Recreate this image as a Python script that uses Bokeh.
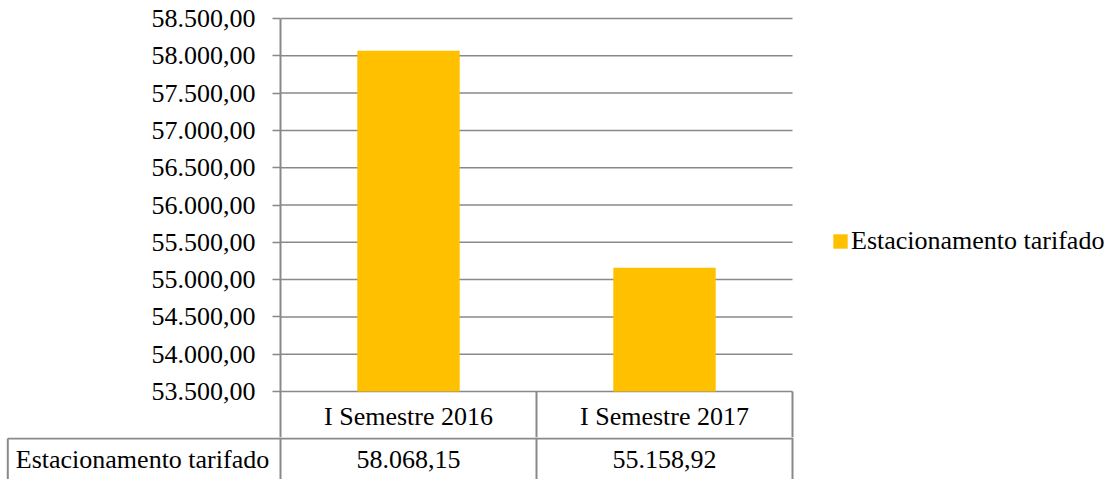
from bokeh.plotting import figure
from bokeh.layouts import column
from bokeh.models import Range1d, FixedTicker, Legend, LegendItem
from bokeh.embed import file_html
from bokeh.resources import INLINE
from bokeh.core.properties import value

# ---------------- data ----------------
categories = ["I Semestre 2016", "I Semestre 2017"]
series_name = "Estacionamento tarifado"
values = [58068.15, 55158.92]
y_ticks = [53500, 54000, 54500, 55000, 55500, 56000, 56500, 57000, 57500, 58000, 58500]


def fmt_pt(v):
    s = f"{v:,.2f}"
    return s.replace(",", "#").replace(".", ",").replace("#", ".")


tick_labels = [fmt_pt(v) for v in y_ticks]
value_labels = [fmt_pt(v) for v in values]

# ---------------- layout ----------------
W = 1118
H_MAIN = 437           # chart part (down to the table's row separator)
H_ROW = 42             # last table row
FRAME_LEFT = 280
FRAME_TOP = 16
TOP_TICK_Y = 18        # pixel row of the highest tick
CAT_PX = 256
SPAN_PX = 373          # pixels between lowest and highest tick
GRAY = "#898989"
FONT = "Liberation Serif"
FS = "26px"

n = len(categories)
px_per_unit = SPAN_PX / (y_ticks[-1] - y_ticks[0])
y_end = y_ticks[-1] + (TOP_TICK_Y - FRAME_TOP) / px_per_unit
y_start = y_end - (H_MAIN - FRAME_TOP) / px_per_unit


def yd(py):
    return y_end - (py - FRAME_TOP) / px_per_unit


def xd(px):
    return (px - FRAME_LEFT) / CAT_PX


p = figure(width=W, height=H_MAIN,
           x_range=Range1d(0, (W - FRAME_LEFT) / CAT_PX),
           y_range=Range1d(y_start, y_end),
           x_axis_location=None, y_axis_location="left",
           output_backend="svg", toolbar_location=None,
           min_border_left=FRAME_LEFT, min_border_right=0,
           min_border_top=FRAME_TOP, min_border_bottom=0)
p.outline_line_color = None
p.xgrid.visible = False
p.ygrid.visible = False

ax = p.yaxis[0]
ax.ticker = FixedTicker(ticks=y_ticks, minor_ticks=[])
ax.bounds = (y_start, y_ticks[-1])
ax.major_label_overrides = {t: l for t, l in zip(y_ticks, tick_labels)}
ax.axis_line_color = GRAY
ax.axis_line_width = 2
ax.major_tick_line_color = GRAY
ax.major_tick_line_width = 1.5
ax.major_tick_out = 8
ax.major_tick_in = 0
ax.minor_tick_out = 0
ax.minor_tick_in = 0
ax.major_label_standoff = 17
ax.major_label_text_font = FONT
ax.major_label_text_font_size = FS
ax.major_label_text_color = "black"

# gridlines limited to the category area
p.segment(x0=[0] * len(y_ticks), x1=[n] * len(y_ticks), y0=y_ticks, y1=y_ticks,
          line_color=GRAY, line_width=1.5)

centers = [i + 0.5 for i in range(n)]
bars = p.vbar(x=centers, top=values, bottom=y_ticks[0], width=0.4,
              fill_color="#FFC000", line_color=None)

# table: first row (category names)
bounds = [i + 1 for i in range(n)]
p.segment(x0=bounds, x1=bounds, y0=[y_ticks[0]] * n, y1=[y_start] * n,
          line_color=GRAY, line_width=2)
p.text(x=centers, y=[yd(415.5)] * n, text=categories, text_align="center",
       text_baseline="middle", text_font=value(FONT), text_font_size=FS, text_color="black")

legend = Legend(items=[LegendItem(label=series_name, renderers=[bars])],
                location=(551, 181), orientation="vertical",
                border_line_color=None, background_fill_alpha=0,
                padding=0, margin=0, spacing=0,
                glyph_width=18, glyph_height=18, label_standoff=2, label_height=30,
                label_text_font=FONT, label_text_font_size=FS, label_text_color="black")
p.add_layout(legend)

# ---------------- table: last row ----------------
t = figure(width=W, height=H_ROW,
           x_range=Range1d(xd(0), xd(W)), y_range=Range1d(0, H_ROW),
           x_axis_location=None, y_axis_location=None,
           output_backend="svg", toolbar_location=None,
           min_border_left=0, min_border_right=0, min_border_top=0, min_border_bottom=0)
t.outline_line_color = None
t.xgrid.visible = False
t.ygrid.visible = False

for fig in (p, t):
    try:
        fig.frame_align = False
    except Exception:
        pass

ROW_TOP = H_ROW - 1
left_edge = xd(7.3)
cols = [0] + bounds
t.segment(x0=cols, x1=cols, y0=[0] * len(cols), y1=[H_ROW] * len(cols),
          line_color=GRAY, line_width=2)
t.segment(x0=[left_edge], x1=[left_edge], y0=[0], y1=[ROW_TOP], line_color=GRAY, line_width=2)
t.segment(x0=[left_edge], x1=[n], y0=[ROW_TOP], y1=[ROW_TOP], line_color=GRAY, line_width=2)

row_y = 479 - 458.5
t.text(x=centers, y=[row_y] * n, text=value_labels, text_align="center",
       text_baseline="middle", text_font=value(FONT), text_font_size=FS, text_color="black")
t.text(x=[xd(142)], y=[row_y], text=[series_name], text_align="center",
       text_baseline="middle", text_font=value(FONT), text_font_size=FS, text_color="black")

layout = column(p, t, spacing=0)
open("out.html", "w").write(file_html(layout, INLINE))
